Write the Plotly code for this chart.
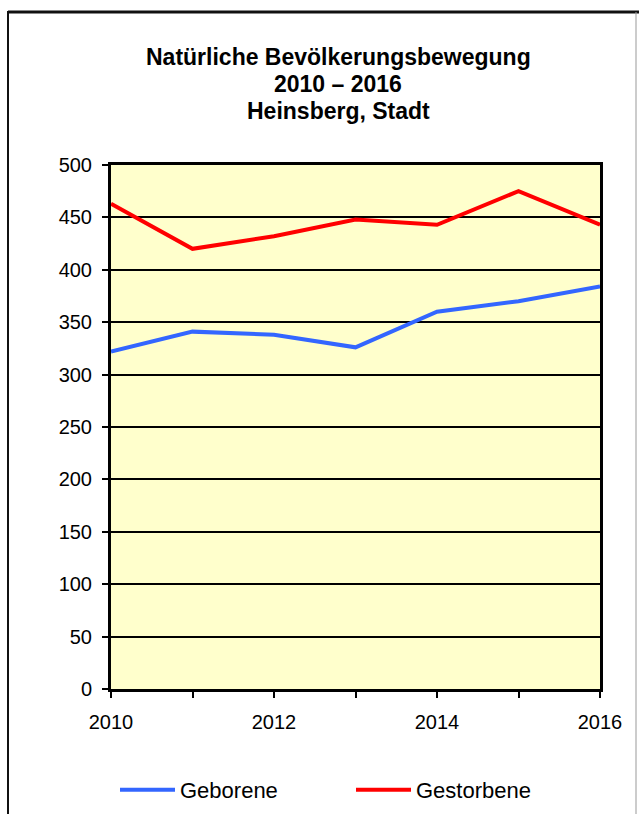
import plotly.graph_objects as go

# Jahre und Werte
years = [2010, 2011, 2012, 2013, 2014, 2015, 2016]
geborene = [322, 341, 338, 326, 360, 370, 384]
gestorbene = [463, 420, 432, 448, 443, 475, 443]
title_lines = ["Natürliche Bevölkerungsbewegung", "2010 – 2016", "Heinsberg, Stadt"]

W, H = 639, 814
L, R, T, B = 111, 39, 165, 125
pw, ph = W - L - R, H - T - B

def px_x(x):
    return (x - L) / pw

def px_y(y):
    return (H - B - y) / ph

fig = go.Figure()
fig.add_trace(go.Scatter(x=years, y=geborene, mode="lines", name="Geborene",
                         line=dict(color="#3366FF", width=4)))
fig.add_trace(go.Scatter(x=years, y=gestorbene, mode="lines", name="Gestorbene",
                         line=dict(color="#FF0000", width=4)))

# Titel, drei Zeilen
for i, txt in enumerate(title_lines):
    fig.add_annotation(text="<b>%s</b>" % txt, xref="paper", yref="paper",
                       x=px_x(338), y=px_y(57 + 27 * i), xanchor="center", yanchor="middle",
                       showarrow=False, font=dict(size=23, color="black"))

# Rahmen um das Diagramm
fig.add_shape(type="line", xref="paper", yref="paper",
              x0=px_x(8), x1=px_x(640), y0=px_y(12), y1=px_y(12),
              line=dict(color="#111111", width=3), layer="above")
fig.add_shape(type="line", xref="paper", yref="paper",
              x0=px_x(8), x1=px_x(8), y0=px_y(11), y1=px_y(820),
              line=dict(color="#111111", width=2), layer="above")
fig.add_shape(type="line", xref="paper", yref="paper",
              x0=px_x(636), x1=px_x(636), y0=px_y(12), y1=px_y(820),
              line=dict(color="#999999", width=1), layer="above")

fig.update_layout(
    width=W, height=H,
    margin=dict(l=L, r=R, t=T, b=B, pad=0),
    paper_bgcolor="white",
    plot_bgcolor="#FFFFCC",
    font=dict(family="Liberation Sans, Arial, sans-serif", color="black", size=20),
    showlegend=True,
    legend=dict(orientation="h", xref="container", yref="container",
                x=115 / W, xanchor="left",
                y=1 - 790 / H, yanchor="middle",
                entrywidth=166, entrywidthmode="pixels",
                itemwidth=55, font=dict(size=22), bgcolor="rgba(0,0,0,0)"),
)

fig.update_xaxes(range=[2010, 2016], dtick=2, tick0=2010,
                 showgrid=False, zeroline=False, automargin=False,
                 showline=True, linecolor="black", linewidth=3, mirror=True,
                 ticks="outside", ticklen=6, tickwidth=2, tickcolor="black",
                 ticklabelstandoff=7,
                 minor=dict(dtick=1, ticks="outside", ticklen=6, tickwidth=2, tickcolor="black"))
fig.update_yaxes(range=[0, 500], dtick=50,
                 showgrid=True, gridcolor="black", gridwidth=1.5, zeroline=False, automargin=False,
                 showline=True, linecolor="black", linewidth=3, mirror=True,
                 ticks="outside", ticklen=6, tickwidth=2, tickcolor="black",
                 ticklabelstandoff=6)

fig.write_html("out.html", config={"displayModeBar": False},
               post_script="document.body.style.margin='0';")
